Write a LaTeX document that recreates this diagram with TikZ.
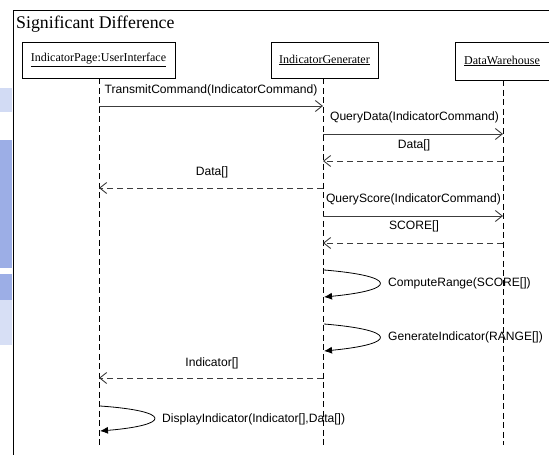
\documentclass[tikz,border=0pt]{standalone}
\usepackage{fontspec}
\setmainfont{Liberation Serif}
\newfontfamily\msgfont{Liberation Sans}
\usetikzlibrary{arrows.meta}
\definecolor{markblue}{RGB}{156,174,230}
\definecolor{msgline}{RGB}{60,60,60}
\begin{document}
\begin{tikzpicture}[x=1pt,y=-1pt,
  obj/.style={draw, line width=0.9pt, inner sep=0pt, minimum height=36pt,
    font=\fontsize{12}{14}\selectfont},
  life/.style={line width=0.9pt, dash pattern=on 6pt off 3.5pt},
  call/.style={line width=0.9pt, draw=msgline,
    -{Straight Barb[length=7pt,width=11pt,line width=0.9pt]}},
  reply/.style={call, dash pattern=on 6pt off 4pt},
  selfcall/.style={line width=0.8pt, -{Latex[length=8pt,width=7pt]}},
  msg/.style={font=\msgfont\fontsize{12.1}{14}\selectfont, inner sep=0pt},
]
\useasboundingbox (0,0) rectangle (549,455);
\fill[white] (0,0) rectangle (549,455);

% faint mark on the left margin
\fill[markblue!45] (0,88) rectangle (12,112);
\fill[markblue] (0,140) rectangle (12,268);
\fill[markblue] (0,274) rectangle (12,300);
\fill[markblue!40] (0,300) rectangle (12,345);

% frame and its title
\draw[line width=0.9pt] (13,455) -- (13,10) -- (549,10);
\node[anchor=base west, inner sep=0pt, font=\fontsize{17.8}{20}\selectfont]
  (title) at (16,28) {Significant Difference};

% objects
\node[obj, minimum width=153pt] (ui)  at (98.5,60)  {\underline{IndicatorPage:UserInterface}};
\node[obj, minimum width=107pt] (gen) at (324.5,60) {\underline{IndicatorGenerater}};
\node[obj, minimum width=94pt, minimum height=38pt] (dw) at (502,61) {\underline{DataWarehouse}};

% lifeline ends
\coordinate (uiend)  at (99,447);
\coordinate (genend) at (323,447);
\coordinate (dwend)  at (503,445);
\draw[life] (ui.south -| uiend) -- (uiend);
\draw[life] (gen.south -| genend) -- (genend);
\draw[life] (dw.south -| dwend) -- (dwend);

% message points on the lifelines
\foreach \n/\y in {1/106,2/134,3/161,4/188,5/216,6/243,7/378}{
  \coordinate (u\n) at (99,\y);
  \coordinate (g\n) at (323,\y);
  \coordinate (d\n) at (503,\y);
}

% messages
\draw[call]  (u1) -- (g1);
\node[msg] (l1) at (211,90) {TransmitCommand(IndicatorCommand)};
\draw[call]  (g2) -- (d2);
\node[msg] (l2) at (414.5,117) {QueryData(IndicatorCommand)};
\draw[reply] (d3) -- (g3);
\node[msg] (l3) at (414,145) {Data[]};
\draw[reply] (g4) -- (u4);
\node[msg] (l4) at (212,172) {Data[]};
\draw[call]  (g5) -- (d5);
\node[msg] (l5) at (413.5,199) {QueryScore(IndicatorCommand)};
\draw[reply] (d6) -- (g6);
\node[msg] (l6) at (414,226) {SCORE[]};
\draw[reply] (g7) -- (u7);
\node[msg] (l7) at (212,363) {Indicator[]};

% self calls
\coordinate (s1a) at (324,270); \coordinate (s1b) at (324,297);
\coordinate (s2a) at (324,324); \coordinate (s2b) at (324,351);
\coordinate (s3a) at (100,406); \coordinate (s3b) at (100,431);
\draw[selfcall] (s1a) .. controls (398,276) and (398,290) .. (s1b);
\node[msg, anchor=west] (l8) at (388,283) {ComputeRange(SCORE[])};
\draw[selfcall] (s2a) .. controls (398,330) and (398,344) .. (s2b);
\node[msg, anchor=west] (l9) at (388,337) {GenerateIndicator(RANGE[])};
\draw[selfcall] (s3a) .. controls (172,411) and (172,425) .. (s3b);
\node[msg, anchor=west] (l10) at (162,419) {DisplayIndicator(Indicator[],Data[])};
\end{tikzpicture}
\end{document}
